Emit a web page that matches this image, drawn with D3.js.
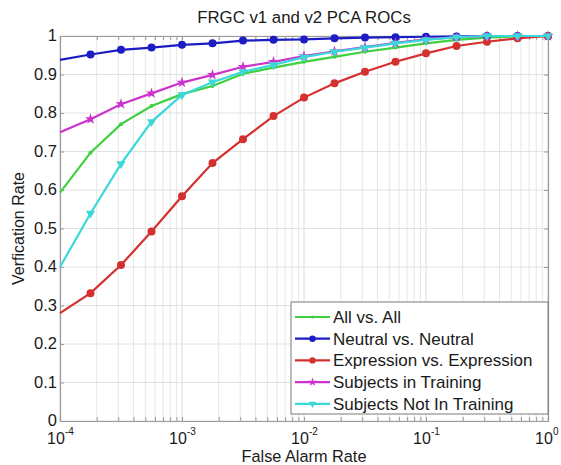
<!DOCTYPE html>
<html>
<head>
<meta charset="utf-8">
<script src="https://cdn.jsdelivr.net/npm/d3@7"></script>
<style>
  body { margin: 0; background: #fff; }
  text { font-family: "Liberation Sans", Arial, sans-serif; fill: #1a1a1a; }
</style>
</head>
<body>
<div id="chart"></div>
<script>
// false alarm rate samples: 10^-4 .. 10^0 in quarter decades
var FAR = [1e-4, 1.778e-4, 3.162e-4, 5.623e-4, 1e-3, 1.778e-3, 3.162e-3, 5.623e-3,
  1e-2, 1.778e-2, 3.162e-2, 5.623e-2, 1e-1, 1.778e-1, 3.162e-1, 5.623e-1, 1];

var allVsAll = [0.593, 0.697, 0.771, 0.818, 0.849, 0.870, 0.902, 0.918, 0.933, 0.946, 0.959, 0.970, 0.981, 0.990, 0.996, 0.999, 1];
var neutralVsNeutral = [0.938, 0.952, 0.964, 0.970, 0.977, 0.981, 0.988, 0.990, 0.991, 0.994, 0.996, 0.997, 0.998, 0.999, 1, 1, 1];
var exprVsExpr = [0.280, 0.332, 0.405, 0.492, 0.584, 0.670, 0.732, 0.792, 0.840, 0.877, 0.907, 0.933, 0.955, 0.974, 0.985, 0.994, 1];
var inTraining = [0.750, 0.784, 0.823, 0.851, 0.879, 0.899, 0.920, 0.933, 0.948, 0.960, 0.971, 0.982, 0.991, 0.997, 1, 1, 1];
var notInTraining = [0.400, 0.539, 0.668, 0.777, 0.847, 0.880, 0.907, 0.925, 0.945, 0.959, 0.970, 0.981, 0.990, 0.997, 1, 1, 1];

var seriesNames = ["All vs. All", "Neutral vs. Neutral", "Expression vs. Expression",
  "Subjects in Training", "Subjects Not In Training"];

var xTicks = [1e-4, 1e-3, 1e-2, 1e-1, 1];
var xTickExp = ["-4", "-3", "-2", "-1", "0"];
var yTicks = [0, 0.1, 0.2, 0.3, 0.4, 0.5, 0.6, 0.7, 0.8, 0.9, 1];
var yTickLabels = ["0", "0.1", "0.2", "0.3", "0.4", "0.5", "0.6", "0.7", "0.8", "0.9", "1"];

var SERIES = [
  { name: seriesNames[0], values: allVsAll, color: "#3fcf3f", marker: "dot" },
  { name: seriesNames[1], values: neutralVsNeutral, color: "#1c1cc4", marker: "circle" },
  { name: seriesNames[2], values: exprVsExpr, color: "#d43030", marker: "circle" },
  { name: seriesNames[3], values: inTraining, color: "#cc33cc", marker: "star" },
  { name: seriesNames[4], values: notInTraining, color: "#3ad8d8", marker: "tri" }
];

var W = 561, H = 465;
var margin = { left: 60, right: 13, top: 36, bottom: 44 };
var innerW = W - margin.left - margin.right;
var innerH = H - margin.top - margin.bottom;

var svg = d3.select("#chart").append("svg")
  .attr("width", W).attr("height", H);

var x = d3.scaleLog().domain([1e-4, 1]).range([margin.left, margin.left + innerW]);
var y = d3.scaleLinear().domain([0, 1]).range([margin.top + innerH, margin.top]);

// minor grid (x), major grid both
var minor = [];
[1e-4, 1e-3, 1e-2, 1e-1].forEach(function(d) {
  for (var m = 2; m <= 9; m++) minor.push(d * m);
});

var grid = svg.append("g");
grid.selectAll("line.mx").data(minor).enter().append("line")
  .attr("x1", function(d) { return x(d); }).attr("x2", function(d) { return x(d); })
  .attr("y1", y(0)).attr("y2", y(1))
  .attr("stroke", "#e6e6e6").attr("stroke-width", 1);
grid.selectAll("line.gx").data(xTicks).enter().append("line")
  .attr("x1", function(d) { return x(d); }).attr("x2", function(d) { return x(d); })
  .attr("y1", y(0)).attr("y2", y(1))
  .attr("stroke", "#dadada").attr("stroke-width", 1);
grid.selectAll("line.gy").data(yTicks).enter().append("line")
  .attr("x1", x(1e-4)).attr("x2", x(1))
  .attr("y1", function(d) { return y(d); }).attr("y2", function(d) { return y(d); })
  .attr("stroke", "#e2e2e2").attr("stroke-width", 1);

// axes (box)
var xAxisB = d3.axisBottom(x).tickValues(minor.concat(xTicks)).tickSize(-4).tickFormat("");
var xAxisT = d3.axisTop(x).tickValues(minor.concat(xTicks)).tickSize(-4).tickFormat("");
var yAxisL = d3.axisLeft(y).tickValues(yTicks).tickSize(-4).tickFormat("");
var yAxisR = d3.axisRight(y).tickValues(yTicks).tickSize(-4).tickFormat("");

function styleAxis(g) {
  g.selectAll("path").attr("stroke", "#9a9a9a").attr("stroke-width", 1.2);
  g.selectAll("line").attr("stroke", "#9a9a9a");
}
svg.append("g").attr("transform", "translate(0," + y(0) + ")").call(xAxisB).call(styleAxis);
svg.append("g").attr("transform", "translate(0," + y(1) + ")").call(xAxisT).call(styleAxis);
svg.append("g").attr("transform", "translate(" + x(1e-4) + ",0)").call(yAxisL).call(styleAxis);
svg.append("g").attr("transform", "translate(" + x(1) + ",0)").call(yAxisR).call(styleAxis);

// tick labels
svg.selectAll("text.yl").data(yTicks).enter().append("text")
  .attr("x", x(1e-4) - 3)
  .attr("y", function(d) { return y(d) + 5; })
  .attr("text-anchor", "end")
  .style("font-size", "16.5px")
  .text(function(d, i) { return yTickLabels[i]; });

var xl = svg.selectAll("g.xl").data(xTicks).enter().append("g")
  .attr("transform", function(d) { return "translate(" + x(d) + "," + (y(0) + 23) + ")"; });
xl.append("text")
  .attr("text-anchor", "middle")
  .attr("x", -4)
  .style("font-size", "16px")
  .text("10");
xl.append("text")
  .attr("x", 5).attr("y", -9)
  .style("font-size", "10px")
  .text(function(d, i) { return xTickExp[i]; });

// title and axis labels
svg.append("text").attr("x", (x(1e-4) + x(1)) / 2).attr("y", 23)
  .attr("text-anchor", "middle").style("font-size", "16.8px")
  .text("FRGC v1 and v2 PCA ROCs");
svg.append("text").attr("x", (x(1e-4) + x(1)) / 2).attr("y", 462)
  .attr("text-anchor", "middle").style("font-size", "16.3px")
  .text("False Alarm Rate");
svg.append("text")
  .attr("transform", "translate(24," + ((y(0) + y(1)) / 2) + ") rotate(-90)")
  .attr("text-anchor", "middle").style("font-size", "16px")
  .text("Verfication Rate");

// curves
var line = d3.line()
  .x(function(d, i) { return x(FAR[i]); })
  .y(function(d) { return y(d); });

function drawMarker(g, type, color, k) {
  k = k || 1;
  if (type === "dot") {
    g.append("circle").attr("r", 2 * k).attr("fill", color);
  } else if (type === "circle") {
    g.append("circle").attr("r", 4 * k).attr("fill", color);
  } else if (type === "star") {
    g.append("path").attr("d", d3.symbol().type(d3.symbolStar).size(38 * k * k)())
      .attr("fill", color);
  } else if (type === "tri") {
    g.append("path").attr("d", d3.symbol().type(d3.symbolTriangle).size(36 * k * k)())
      .attr("transform", "rotate(180)")
      .attr("fill", color);
  }
}

var plot = svg.append("g");
SERIES.forEach(function(s) {
  plot.append("path")
    .attr("d", line(s.values))
    .attr("fill", "none")
    .attr("stroke", s.color)
    .attr("stroke-width", 2.2);
  // markers are drawn from the second sample onward
  s.values.forEach(function(v, i) {
    if (i === 0) return;
    var m = plot.append("g").attr("transform", "translate(" + x(FAR[i]) + "," + y(v) + ")");
    drawMarker(m, s.marker, s.color);
  });
});

// legend
var lg = svg.append("g").attr("transform", "translate(291,302)");
lg.append("rect").attr("width", 257).attr("height", 112)
  .attr("fill", "#fff").attr("stroke", "#7a7a7a").attr("stroke-width", 1);
SERIES.forEach(function(s, i) {
  var row = lg.append("g").attr("transform", "translate(0," + (15 + i * 21.7) + ")");
  row.append("line").attr("x1", 4).attr("x2", 39).attr("y1", 0).attr("y2", 0)
    .attr("stroke", s.color).attr("stroke-width", 2.2);
  var m = row.append("g").attr("transform", "translate(21.5,0)");
  drawMarker(m, s.marker, s.color, 0.8);
  row.append("text").attr("x", 42).attr("y", 6)
    .style("font-size", "17px")
    .text(s.name);
});
</script>
</body>
</html>
